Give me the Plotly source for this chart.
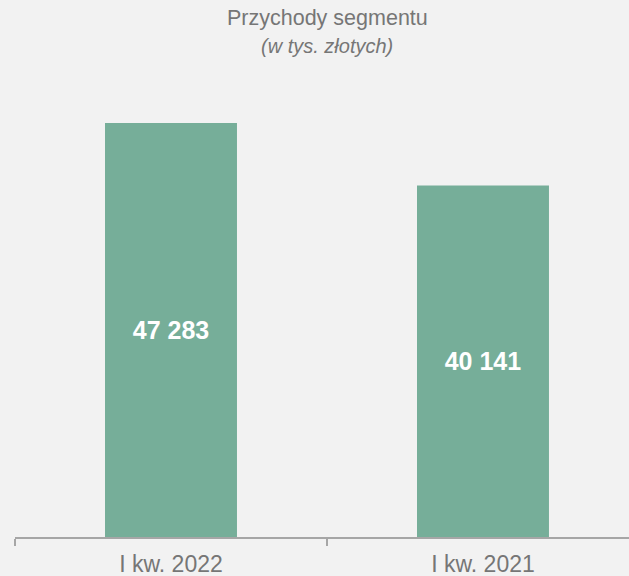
import plotly.graph_objects as go

categories = ["I kw. 2022", "I kw. 2021"]
values = [47283, 40141]
labels = ["47 283", "40 141"]

BAR = "#76ae99"
BG = "#f2f2f2"
GRAY = "#767676"
FONT = "Liberation Sans, Arial, sans-serif"

fig = go.Figure(go.Bar(
    x=categories, y=values, text=labels,
    textposition="inside", insidetextanchor="middle",
    textfont=dict(family=FONT, size=25, color="white", weight="bold"),
    marker=dict(color=BAR, line=dict(width=0)),
    width=0.423, hoverinfo="skip",
))

fig.update_layout(
    width=629, height=576,
    paper_bgcolor=BG, plot_bgcolor=BG,
    margin=dict(l=15, r=0, t=70, b=39),
    showlegend=False,
    font=dict(family=FONT, color=GRAY),
    xaxis=dict(
        range=[-0.5, 1.468], showgrid=False, zeroline=False,
        showline=True, linecolor="#a6a6a6", linewidth=2,
        ticks="outside", tickson="boundaries", ticklen=7,
        tickcolor="#a6a6a6", tickwidth=2,
        ticklabelstandoff=5, automargin=False,
        tickfont=dict(size=23, color=GRAY, family=FONT),
    ),
    yaxis=dict(range=[0, 53335], visible=False, fixedrange=True, automargin=False),
    annotations=[
        dict(text="Przychody segmentu", x=327, y=576 - 18, xref="paper", yref="paper",
             showarrow=False, font=dict(size=21.5, color=GRAY, family=FONT)),
        dict(text="<i>(w tys. złotych)</i>", x=327, y=576 - 46, xref="paper", yref="paper",
             showarrow=False, font=dict(size=20, color=GRAY, family=FONT)),
    ],
)

# convert pixel positions of annotations to paper coords
pw = 629 - 15 - 0
ph = 576 - 70 - 39
for a in fig.layout.annotations:
    px, py = a.x, a.y
    a.x = (px - 15) / pw
    a.y = (py - 39) / ph
    a.yanchor = "middle"
    a.xanchor = "center"

fig.write_html("out.html", config={"displayModeBar": False},
               post_script="document.body.style.margin='0';document.body.style.overflow='hidden';")
